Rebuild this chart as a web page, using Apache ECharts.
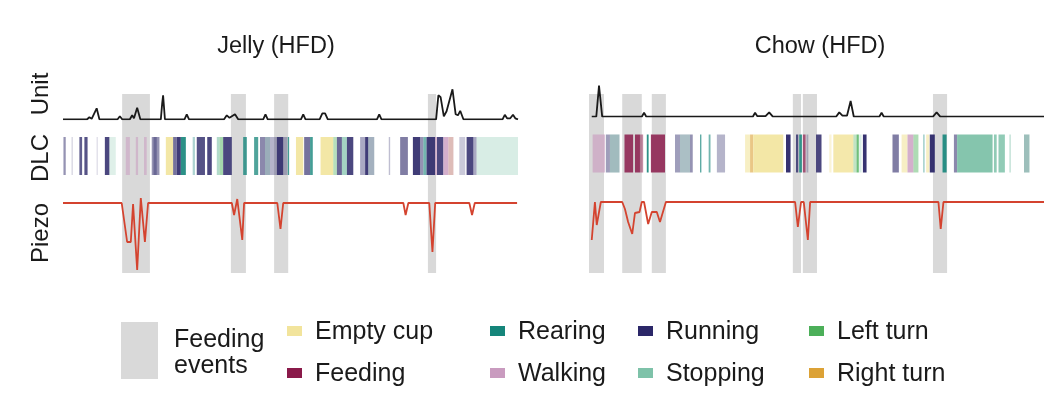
<!DOCTYPE html>
<html>
<head>
<meta charset="utf-8">
<script src="https://cdn.jsdelivr.net/npm/echarts@6/dist/echarts.min.js"></script>
<style>
  html, body { margin: 0; padding: 0; background: #fff; }
  #main { width: 1059px; height: 396px; }
</style>
</head>
<body>
<div id="main"></div>
<script>
// ---- data (time in % of the recording window) ----
var behaviors = ['Empty cup', 'Feeding', 'Rearing', 'Walking', 'Running', 'Stopping', 'Left turn', 'Right turn'];
var codes = ['EC', 'FE', 'RE', 'WA', 'RU', 'ST', 'LT', 'RT'];
var palette = ['#f2e49c', '#8a1a4a', '#15857a', '#c99bbf', '#2b2768', '#7ec2a9', '#4caf59', '#dca236'];

var feedingJelly = [[13.0, 19.1], [36.9, 40.2], [46.4, 49.5], [80.2, 82.0]];
var feedingChow = [[0, 3.3], [7.3, 11.6], [13.8, 16.9], [44.8, 46.6], [47.0, 50.1], [75.6, 78.7]];

var unitJelly = [[0,0],[5.3,0],[5.8,2],[6.3,0.5],[7.4,11],[8.0,0],[12.0,0],[12.5,3],[13.0,0],[14.7,0],
  [15.2,4],[15.6,1],[16.3,11.5],[17.0,0],[21.5,0],[21.8,16],[22.0,24],[22.4,0],[26.7,0],[27.2,5],[27.7,0],
  [35.4,0],[36.0,4],[36.6,1.5],[37.8,5],[38.5,0],[44.0,0],[44.5,5],[45.0,0],[52.3,0],[52.8,5],[53.3,0],
  [56.4,0],[57.0,6],[57.6,6],[58.2,0],[69.0,0],[69.5,5],[70.0,0],[82.0,0],[82.5,24],[83.0,22],[83.7,3],
  [84.3,8],[85.6,30],[86.3,5],[86.8,4],[87.3,8.5],[88.0,0],[96.6,0],[97.1,4.5],[97.6,1],[98.3,1],[98.9,4.5],
  [99.4,1],[100,0]];
var unitChow = [[0.6,0],[1.6,0],[2.2,31],[2.9,0],[11.6,0],[12.1,4],[12.6,0],[36.0,0],[36.5,4],[37.0,0.5],
  [38.8,0.5],[39.6,4.3],[40.4,0],[54.3,0],[55.0,4.3],[55.7,1],[56.7,1],[57.5,15.7],[58.2,0],[63.8,0],
  [64.3,4],[64.8,0],[75.6,0],[76.4,4.3],[77.2,0],[100,0]];

var piezoJelly = [[0,0],[12.9,0],[14.1,-39],[14.9,-39],[15.4,-1],[16.3,-67],[17.1,5],[18.0,-39],[18.7,0],
  [37.1,0],[37.6,-12],[38.3,4],[39.4,-37],[39.8,0],[47.1,0],[47.8,-26],[48.4,0],[74.8,0],[75.3,-12],
  [75.9,0],[80.5,0],[81.2,-49],[81.8,0],[89.3,0],[89.9,-12],[90.5,0],[99.8,0]];
var piezoChow = [[0.6,-38],[1.3,0],[1.7,-23],[2.6,0],[7.3,0],[7.9,-7],[8.6,-20],[9.0,-21],[9.5,-32],
  [10.1,-11],[11.1,-10],[11.6,0],[12.1,0],[13.0,-22],[13.8,-10],[14.9,-10],[15.6,-20],[16.9,0],[45.3,0],
  [45.9,-25],[46.6,0],[47.2,0],[48.1,-38],[48.6,0],[76.8,0],[77.3,-27],[77.9,0],[100,0]];

// DLC ethogram: [start, end, behaviour, confidence]
var dlcJelly = [[0.1,0.6,'RU',0.5],[1.9,2.1,'RU',0.25],[3.6,4.2,'RU',0.75],[4.7,5.4,'RU',0.8],[7.4,7.6,'RU',0.2],
  [9.2,10.2,'RU',0.85],[10.2,11.6,'ST',0.25],[13.8,14.7,'WA',0.55],[16.0,16.5,'WA',0.55],[17.8,18.4,'WA',0.55],
  [19.5,21.2,'RU',0.5],[19.9,20.6,'RU',0.4],[22.6,24.2,'EC',0.9],[24.2,25.0,'RU',0.65],[25.0,25.9,'RU',0.9],
  [25.9,27.0,'RE',0.9],[28.5,29.0,'RE',0.35],[29.4,31.2,'RU',0.8],[31.7,32.7,'RU',0.85],[33.8,34.4,'ST',0.6],
  [34.4,35.2,'LT',0.5],[35.2,37.1,'RU',0.85],[39.6,40.4,'RE',0.8],[42.0,42.9,'RE',0.75],[43.3,44.4,'RU',0.55],
  [44.4,45.5,'ST',0.4],[44.4,45.5,'RU',0.3],[45.5,47.0,'RU',0.35],[47.0,48.4,'RU',0.9],[48.4,49.3,'RU',0.35],
  [49.4,49.7,'RE',0.8],[51.2,52.8,'EC',0.9],[53.0,54.3,'RU',0.65],[54.3,54.9,'RE',0.8],[56.6,59.4,'EC',0.9],
  [59.4,60.2,'LT',0.4],[60.2,61.3,'RU',0.7],[61.3,62.4,'ST',0.7],[62.4,63.8,'RU',0.85],[65.3,66.4,'RU',0.4],
  [66.4,67.1,'RU',0.9],[67.1,68.4,'ST',0.3],[67.1,68.4,'RU',0.3],[71.6,71.9,'RU',0.3],[74.1,75.8,'RU',0.6],
  [76.9,78.5,'RU',0.9],[78.5,79.2,'RU',0.5],[79.2,79.9,'RE',0.6],[79.9,81.8,'RU',0.9],[81.8,82.2,'WA',0.7],
  [82.2,83.6,'RU',0.85],[83.6,84.7,'WA',0.8],[84.7,85.8,'WA',0.6],[84.7,85.8,'RT',0.2],[87.1,88.4,'RU',0.25],
  [88.7,90.2,'RU',0.85],[90.2,90.9,'RU',0.4],[90.9,100,'ST',0.3]];
var dlcChow = [[0.8,3.5,'WA',0.65],[3.7,4.6,'RU',0.45],[4.6,6.7,'ST',0.5],[4.6,6.7,'RU',0.2],[7.8,9.7,'FE',0.85],
  [10.1,11.2,'FE',0.85],[11.2,11.9,'FE',0.5],[12.7,13.1,'RE',0.9],[13.6,16.7,'FE',0.85],[18.9,20.0,'RU',0.45],
  [20.0,22.2,'RU',0.3],[20.0,22.2,'ST',0.3],[22.2,22.8,'RU',0.5],[24.4,24.7,'RE',0.7],[26.3,26.7,'RE',0.6],
  [28.1,29.9,'RU',0.35],[34.3,35.4,'EC',0.6],[35.4,36.1,'RT',0.6],[36.1,42.7,'EC',0.9],[43.3,44.3,'RU',0.95],
  [45.5,46.0,'RU',0.8],[46.2,46.8,'RE',0.85],[47.0,47.6,'FE',0.7],[47.8,48.2,'RU',0.3],[49.9,51.1,'RU',0.85],
  [52.8,53.3,'EC',0.4],[53.7,58.1,'EC',0.85],[58.1,58.8,'LT',0.35],[58.8,59.3,'LT',0.8],[59.4,59.9,'ST',0.3],
  [60.2,61.0,'RU',0.95],[66.7,68.1,'RU',0.6],[68.7,70.0,'EC',0.6],[70.0,71.3,'WA',0.8],[71.3,72.4,'LT',0.45],
  [73.5,73.7,'RE',0.6],[74.1,74.8,'EC',0.6],[74.9,76.0,'RU',0.95],[77.7,78.6,'RE',0.9],[80.2,80.9,'RU',0.55],
  [80.9,88.7,'ST',0.95],[89.0,89.6,'ST',0.85],[90.0,91.4,'ST',0.85],[92.4,92.7,'ST',0.5],[95.6,96.8,'ST',0.6],
  [95.6,96.8,'RU',0.15]];

// ---- layout ----
var FONT = "'Liberation Sans', Arial, sans-serif";
var panels = [
  { title: 'Jelly (HFD)', titleX: 271, left: 63, unitTop: 84.3, dlcTop: 137, piezoTop: 195,
    feed: feedingJelly, unit: unitJelly, dlc: dlcJelly, piezo: piezoJelly },
  { title: 'Chow (HFD)', titleX: 815, left: 589, unitTop: 81.7, dlcTop: 134.5, piezoTop: 194,
    feed: feedingChow, unit: unitChow, dlc: dlcChow, piezo: piezoChow }
];
var W = 455;

var grids = [], xAxes = [], yAxes = [], series = [], titles = [];

function rectItem(params, api, full) {
  var s = api.coord([api.value(0), 0]);
  var e = api.coord([api.value(1), 0]);
  var cs = params.coordSys;
  var style = { fill: '#d9d9d9' };
  if (!full) {
    style = { fill: palette[api.value(2)], opacity: api.value(3) };
  }
  return { type: 'rect', shape: { x: s[0], y: cs.y, width: Math.max(e[0] - s[0], 1), height: cs.height }, style: style };
}

panels.forEach(function (p, k) {
  var base = grids.length;
  grids.push({ left: p.left, width: W, top: 94, height: 179 });
  grids.push({ left: p.left, width: W, top: p.unitTop, height: 35 });
  grids.push({ left: p.left, width: W, top: p.dlcTop, height: 38 });
  grids.push({ left: p.left, width: W, top: p.piezoTop, height: 80 });
  var yr = [[0, 1], [0, 35], [0, 1], [-72, 8]];
  for (var i = 0; i < 4; i++) {
    xAxes.push({ type: 'value', gridIndex: base + i, min: 0, max: 100, show: false });
    yAxes.push({ type: 'value', gridIndex: base + i, min: yr[i][0], max: yr[i][1], show: false });
  }
  series.push({
    type: 'custom', xAxisIndex: base, yAxisIndex: base, z: 1, silent: true,
    renderItem: function (params, api) { return rectItem(params, api, true); },
    encode: { x: [0, 1] }, data: p.feed
  });
  series.push({
    type: 'line', xAxisIndex: base + 1, yAxisIndex: base + 1, z: 3, data: p.unit,
    showSymbol: false, lineStyle: { color: '#1a1a1a', width: 1.8 }
  });
  series.push({
    type: 'custom', xAxisIndex: base + 2, yAxisIndex: base + 2, z: 2, silent: true,
    renderItem: function (params, api) { return rectItem(params, api, false); },
    encode: { x: [0, 1] },
    data: p.dlc.map(function (d) { return [d[0], d[1], codes.indexOf(d[2]), d[3]]; })
  });
  series.push({
    type: 'line', xAxisIndex: base + 3, yAxisIndex: base + 3, z: 3, data: p.piezo,
    showSymbol: false, lineStyle: { color: '#d4432f', width: 1.8 }
  });
  titles.push({
    text: p.title, left: p.titleX, top: 30, textAlign: 'center',
    textStyle: { fontFamily: FONT, fontSize: 23.5, fontWeight: 'normal', color: '#1a1a1a' }
  });
});

// legend drawn as graphic text + swatches
var graphics = [];
function label(t, x, y) {
  return { type: 'text', x: x, y: y,
    style: { text: t, font: '25px ' + FONT, fill: '#1a1a1a', verticalAlign: 'middle' } };
}
graphics.push({ type: 'rect', shape: { x: 121, y: 322, width: 37, height: 57 }, style: { fill: '#d9d9d9' } });
graphics.push(label('Feeding', 174, 340));
graphics.push(label('events', 174, 366));
var legendOrder = ['Empty cup', 'Feeding', 'Rearing', 'Walking', 'Running', 'Stopping', 'Left turn', 'Right turn'];
var colX = [287, 490, 638, 809];
var rowY = [331, 373];
legendOrder.forEach(function (name, i) {
  var c = Math.floor(i / 2), r = i % 2;
  graphics.push({ type: 'rect', shape: { x: colX[c], y: rowY[r] - 5, width: 15, height: 10 },
    style: { fill: palette[behaviors.indexOf(name)] } });
  graphics.push(label(name, colX[c] + 28, rowY[r] + 1));
});
// row labels
[['Unit', 94], ['DLC', 158], ['Piezo', 233]].forEach(function (l) {
  graphics.push({ type: 'text', x: 41, y: l[1], rotation: Math.PI / 2,
    style: { text: l[0], font: '24px ' + FONT, fill: '#1a1a1a', align: 'center', verticalAlign: 'middle' } });
});

var chart = echarts.init(document.getElementById('main'));
chart.setOption({
  backgroundColor: '#ffffff',
  animation: false,
  title: titles,
  grid: grids,
  xAxis: xAxes,
  yAxis: yAxes,
  series: series,
  graphic: graphics
});
</script>
</body>
</html>
